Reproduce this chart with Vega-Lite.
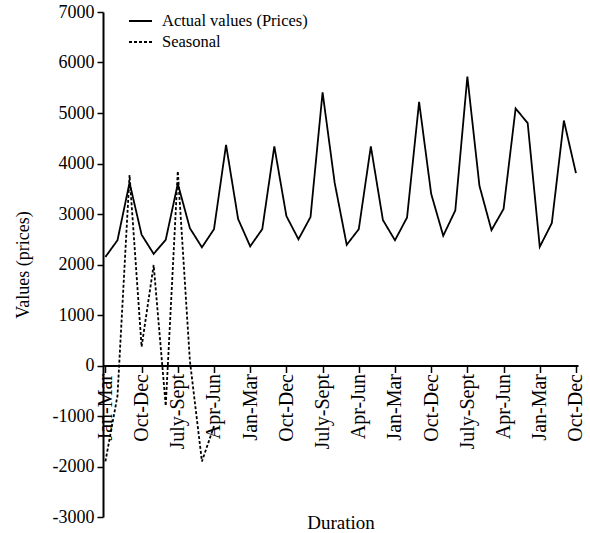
{
  "$schema": "https://vega.github.io/schema/vega-lite/v6.json",
  "width": 475,
  "height": 505,
  "autosize": {"type": "none"},
  "padding": {"left": 103, "top": 12, "right": 12, "bottom": 16},
  "config": {
    "view": {"stroke": null},
    "font": "Liberation Serif",
    "axis": {
      "grid": false,
      "domainColor": "black",
      "domainWidth": 2,
      "tickColor": "black",
      "tickWidth": 1.5,
      "labelColor": "black",
      "titleColor": "black",
      "titleFontWeight": "normal"
    }
  },
  "data": {
    "values": [
      {"t": 0, "series": "Actual values (Prices)", "value": 2150},
      {"t": 1, "series": "Actual values (Prices)", "value": 2480},
      {"t": 2, "series": "Actual values (Prices)", "value": 3620},
      {"t": 3, "series": "Actual values (Prices)", "value": 2590},
      {"t": 4, "series": "Actual values (Prices)", "value": 2210},
      {"t": 5, "series": "Actual values (Prices)", "value": 2490},
      {"t": 6, "series": "Actual values (Prices)", "value": 3600},
      {"t": 7, "series": "Actual values (Prices)", "value": 2720},
      {"t": 8, "series": "Actual values (Prices)", "value": 2340},
      {"t": 9, "series": "Actual values (Prices)", "value": 2700},
      {"t": 10, "series": "Actual values (Prices)", "value": 4370},
      {"t": 11, "series": "Actual values (Prices)", "value": 2900},
      {"t": 12, "series": "Actual values (Prices)", "value": 2360},
      {"t": 13, "series": "Actual values (Prices)", "value": 2700},
      {"t": 14, "series": "Actual values (Prices)", "value": 4340},
      {"t": 15, "series": "Actual values (Prices)", "value": 2960},
      {"t": 16, "series": "Actual values (Prices)", "value": 2500},
      {"t": 17, "series": "Actual values (Prices)", "value": 2940},
      {"t": 18, "series": "Actual values (Prices)", "value": 5410},
      {"t": 19, "series": "Actual values (Prices)", "value": 3620},
      {"t": 20, "series": "Actual values (Prices)", "value": 2390},
      {"t": 21, "series": "Actual values (Prices)", "value": 2700},
      {"t": 22, "series": "Actual values (Prices)", "value": 4340},
      {"t": 23, "series": "Actual values (Prices)", "value": 2880},
      {"t": 24, "series": "Actual values (Prices)", "value": 2480},
      {"t": 25, "series": "Actual values (Prices)", "value": 2930},
      {"t": 26, "series": "Actual values (Prices)", "value": 5220},
      {"t": 27, "series": "Actual values (Prices)", "value": 3400},
      {"t": 28, "series": "Actual values (Prices)", "value": 2570},
      {"t": 29, "series": "Actual values (Prices)", "value": 3070},
      {"t": 30, "series": "Actual values (Prices)", "value": 5720},
      {"t": 31, "series": "Actual values (Prices)", "value": 3560},
      {"t": 32, "series": "Actual values (Prices)", "value": 2680},
      {"t": 33, "series": "Actual values (Prices)", "value": 3100},
      {"t": 34, "series": "Actual values (Prices)", "value": 5090},
      {"t": 35, "series": "Actual values (Prices)", "value": 4800},
      {"t": 36, "series": "Actual values (Prices)", "value": 2350},
      {"t": 37, "series": "Actual values (Prices)", "value": 2820},
      {"t": 38, "series": "Actual values (Prices)", "value": 4850},
      {"t": 39, "series": "Actual values (Prices)", "value": 3810},
      {"t": 0, "series": "Seasonal", "value": -1900},
      {"t": 1, "series": "Seasonal", "value": -600},
      {"t": 2, "series": "Seasonal", "value": 3770},
      {"t": 3, "series": "Seasonal", "value": 370},
      {"t": 4, "series": "Seasonal", "value": 1990},
      {"t": 5, "series": "Seasonal", "value": -800},
      {"t": 6, "series": "Seasonal", "value": 3850},
      {"t": 7, "series": "Seasonal", "value": 100},
      {"t": 8, "series": "Seasonal", "value": -1900},
      {"t": 9, "series": "Seasonal", "value": -1200}
    ]
  },
  "mark": {"type": "line", "color": "black", "strokeWidth": 1.8},
  "encoding": {
    "x": {
      "field": "t",
      "type": "quantitative",
      "scale": {"domain": [-0.2, 39.17], "nice": false, "zero": false},
      "axis": {
        "values": [0, 3, 6, 9, 12, 15, 18, 21, 24, 27, 30, 33, 36, 39],
        "labelExpr": "['Jan-Mar', 'Apr-Jun', 'July-Sept', 'Oct-Dec'][datum.value % 4]",
        "labelAngle": -90,
        "labelFontSize": 20,
        "tickSize": 7,
        "labelPadding": 1,
        "offset": -151.5,
        "title": "Duration",
        "titleFontSize": 19,
        "titleY": 156.5,
        "titleBaseline": "middle"
      }
    },
    "y": {
      "field": "value",
      "type": "quantitative",
      "scale": {"domain": [-3000, 7000], "nice": false},
      "axis": {
        "values": [-3000, -2000, -1000, 0, 1000, 2000, 3000, 4000, 5000, 6000, 7000],
        "labelExpr": "datum.value + ''",
        "labelFontSize": 18,
        "tickSize": 6,
        "labelPadding": 3,
        "title": "Values (prices)",
        "titleFontSize": 18,
        "titleX": -80,
        "titleBaseline": "middle"
      }
    },
    "strokeDash": {
      "field": "series",
      "type": "nominal",
      "scale": {"domain": ["Actual values (Prices)", "Seasonal"], "range": [[1, 0], [3, 2]]},
      "legend": {
        "title": null,
        "orient": "none",
        "legendX": 25,
        "legendY": -3.5,
        "symbolType": "stroke",
        "symbolStrokeColor": "black",
        "symbolStrokeWidth": 1.8,
        "symbolSize": 529,
        "labelFontSize": 16.5,
        "labelColor": "black",
        "labelOffset": 9,
        "rowPadding": 0
      }
    }
  }
}
